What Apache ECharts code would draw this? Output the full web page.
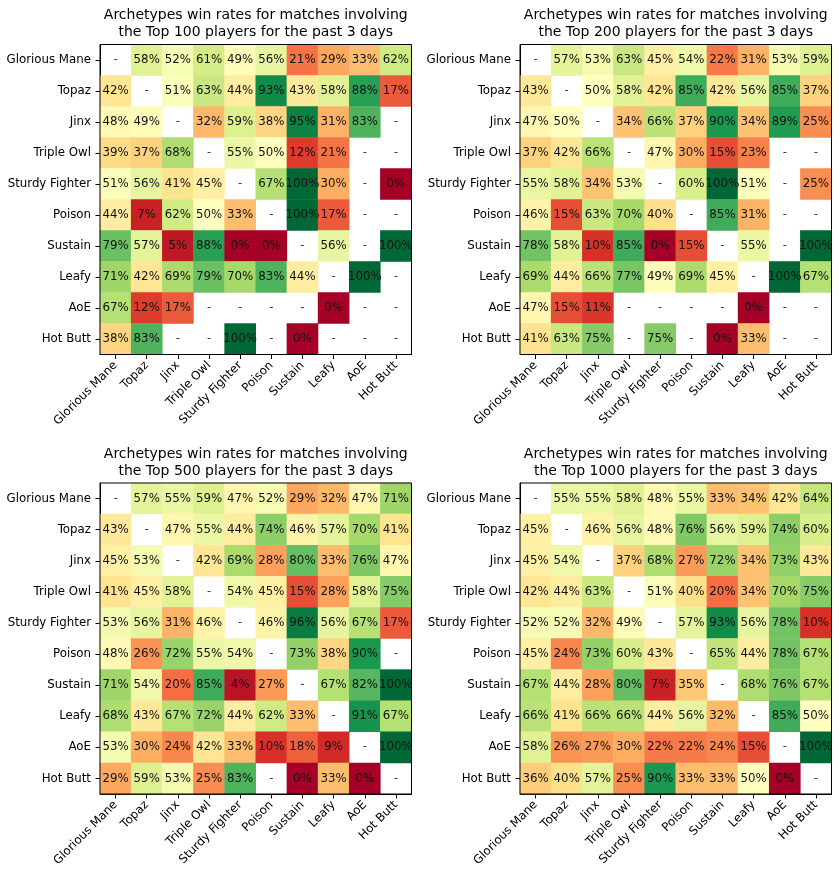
<!DOCTYPE html>
<html>
<head>
<meta charset="utf-8">
<script src="https://cdn.jsdelivr.net/npm/echarts@6/dist/echarts.min.js"></script>
<style>html,body{margin:0;padding:0;background:#fff;}#c{width:839px;height:877px;}</style>
</head>
<body>
<div id="c"></div>
<script>
const categories = ['Glorious Mane','Topaz','Jinx','Triple Owl','Sturdy Fighter','Poison','Sustain','Leafy','AoE','Hot Butt'];
const titles = [
  'Archetypes win rates for matches involving\nthe Top 100 players for the past 3 days',
  'Archetypes win rates for matches involving\nthe Top 200 players for the past 3 days',
  'Archetypes win rates for matches involving\nthe Top 500 players for the past 3 days',
  'Archetypes win rates for matches involving\nthe Top 1000 players for the past 3 days'
];
// rows = archetype (y), columns = opponent (x); null = no matches ("-")
const top100 = [
  [null,58,52,61,49,56,21,29,33,62],
  [42,null,51,63,44,93,43,58,88,17],
  [48,49,null,32,59,38,95,31,83,null],
  [39,37,68,null,55,50,12,21,null,null],
  [51,56,41,45,null,67,100,30,null,0],
  [44,7,62,50,33,null,100,17,null,null],
  [79,57,5,88,0,0,null,56,null,100],
  [71,42,69,79,70,83,44,null,100,null],
  [67,12,17,null,null,null,null,0,null,null],
  [38,83,null,null,100,null,0,null,null,null]
];
const top200 = [
  [null,57,53,63,45,54,22,31,53,59],
  [43,null,50,58,42,85,42,56,85,37],
  [47,50,null,34,66,37,90,34,89,25],
  [37,42,66,null,47,30,15,23,null,null],
  [55,58,34,53,null,60,100,51,null,25],
  [46,15,63,70,40,null,85,31,null,null],
  [78,58,10,85,0,15,null,55,null,100],
  [69,44,66,77,49,69,45,null,100,67],
  [47,15,11,null,null,null,null,0,null,null],
  [41,63,75,null,75,null,0,33,null,null]
];
const top500 = [
  [null,57,55,59,47,52,29,32,47,71],
  [43,null,47,55,44,74,46,57,70,41],
  [45,53,null,42,69,28,80,33,76,47],
  [41,45,58,null,54,45,15,28,58,75],
  [53,56,31,46,null,46,96,56,67,17],
  [48,26,72,55,54,null,73,38,90,null],
  [71,54,20,85,4,27,null,67,82,100],
  [68,43,67,72,44,62,33,null,91,67],
  [53,30,24,42,33,10,18,9,null,100],
  [29,59,53,25,83,null,0,33,0,null]
];
const top1000 = [
  [null,55,55,58,48,55,33,34,42,64],
  [45,null,46,56,48,76,56,59,74,60],
  [45,54,null,37,68,27,72,34,73,43],
  [42,44,63,null,51,40,20,34,70,75],
  [52,52,32,49,null,57,93,56,78,10],
  [45,24,73,60,43,null,65,44,78,67],
  [67,44,28,80,7,35,null,68,76,67],
  [66,41,66,66,44,56,32,null,85,50],
  [58,26,27,30,22,22,24,15,null,100],
  [36,40,57,25,90,33,33,50,0,null]
];
const matrices = [top100, top200, top500, top1000];

const FONT = 'DejaVu Sans';
const FS = 11.8;
const RdYlGn = ['#a50026','#d73027','#f46d43','#fdae61','#fee08b','#ffffbf','#d9ef8b','#a6d96a','#66bd63','#1a9850','#006837'];
const grids = [
  {left:100, top:44.5, width:311.5, height:310},
  {left:520, top:44.5, width:311.5, height:310},
  {left:100, top:483, width:311.5, height:311},
  {left:520, top:483, width:311.5, height:311}
];
const titleY = [6.5, 6.5, 446, 446];

const chart = echarts.init(document.getElementById('c'));
const xAxis = [], yAxis = [], series = [], graphic = [], heatIdx = [];
matrices.forEach((m, k) => {
  xAxis.push({
    type:'category', gridIndex:k, data:categories, position:'bottom',
    axisLine:{show:true, lineStyle:{color:'#000', width:1}},
    axisTick:{show:true, alignWithLabel:true, length:4.5, lineStyle:{color:'#000'}},
    axisLabel:{rotate:45, interval:0, margin:9, fontSize:FS, fontFamily:FONT, color:'#000'},
    splitLine:{show:false}
  });
  yAxis.push({
    type:'category', gridIndex:k, data:categories, inverse:true,
    axisLine:{show:true, lineStyle:{color:'#000', width:1}},
    axisTick:{show:true, alignWithLabel:true, length:4.5, lineStyle:{color:'#000'}},
    axisLabel:{interval:0, margin:9, fontSize:FS, fontFamily:FONT, color:'#000'},
    splitLine:{show:false}
  });
  const heat = [], miss = [];
  m.forEach((row, r) => row.forEach((v, c) => {
    if (v === null) miss.push([c, r]); else heat.push([c, r, v]);
  }));
  heatIdx.push(series.length);
  series.push({
    type:'heatmap', xAxisIndex:k, yAxisIndex:k, data:heat,
    label:{show:true, formatter:p => p.value[2] + '%', fontSize:FS, fontFamily:FONT, color:'#111'},
    itemStyle:{borderWidth:0},
    emphasis:{disabled:true}
  });
  series.push({
    type:'scatter', xAxisIndex:k, yAxisIndex:k, data:miss, symbolSize:1,
    itemStyle:{color:'rgba(0,0,0,0)'},
    label:{show:true, position:'inside', formatter:'-', fontSize:FS, fontFamily:FONT, color:'#111'},
    emphasis:{disabled:true}, silent:true
  });
  const g = grids[k];
  graphic.push({
    type:'rect', z:100, silent:true,
    shape:{x:g.left, y:g.top, width:g.width, height:g.height},
    style:{fill:'none', stroke:'#000', lineWidth:1}
  });
  graphic.push({
    type:'text', z:100, silent:true, x:g.left + g.width/2, y:titleY[k],
    style:{text:titles[k], font:'14px "DejaVu Sans"', textAlign:'center', textVerticalAlign:'top', fill:'#000', lineHeight:17}
  });
});

chart.setOption({
  animation:false,
  backgroundColor:'#fff',
  grid: grids.map(g => Object.assign({containLabel:false}, g)),
  xAxis, yAxis, series, graphic,
  visualMap:{type:'continuous', show:false, min:0, max:100, seriesIndex:heatIdx, dimension:2, inRange:{color:RdYlGn}}
});
</script>
</body>
</html>
